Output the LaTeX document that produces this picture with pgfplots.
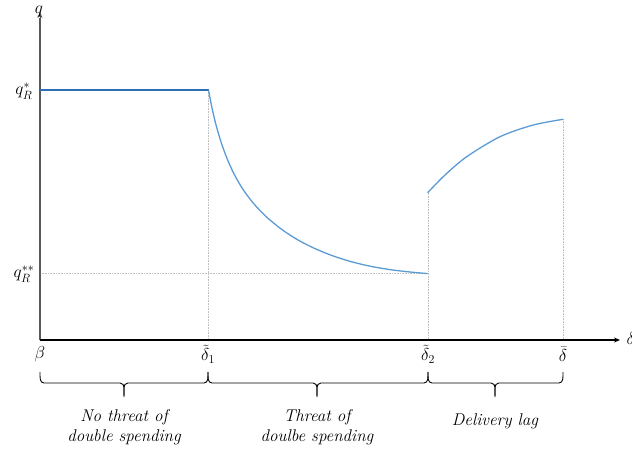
\documentclass[border=0pt]{standalone}
\usepackage{pgfplots}
\pgfplotsset{compat=1.18}
\usetikzlibrary{arrows.meta}

\definecolor{flatblue}{HTML}{2E6EB4}
\definecolor{curveblue}{HTML}{5B9BD5}
\definecolor{guide}{HTML}{BFBFBF}
\definecolor{yaxis}{HTML}{595959}

% brace from #1 to #2 with its tip at #3 (axis units)
\newcommand\bracepath[3]{%
	\draw[line width=0.9pt] (#1,-32) to[out=-90,in=180] (#1+4,-43) -- (#3-4,-43)
		to[out=0,in=90] (#3,-57) to[out=90,in=180] (#3+4,-43) -- (#2-4,-43)
		to[out=0,in=-90] (#2,-32);}

\begin{document}
\begin{tikzpicture}
\useasboundingbox (0,0) rectangle (632pt,453pt);
\begin{axis}[
	scale only axis,
	width=632pt, height=453pt,
	xmin=-40, xmax=592,
	ymin=-113, ymax=340,
	axis lines=none,
	clip=false,
	]
% guide lines
\draw[guide, densely dotted, line width=0.6pt] (168,250) -- (168,0);
\draw[guide, densely dotted, line width=0.6pt] (0,66.4) -- (388,66.4);
\draw[guide, densely dotted, line width=0.6pt] (388,147.3) -- (388,0);
\draw[guide, densely dotted, line width=0.6pt] (523.3,220.7) -- (523.3,0);

% axes
\draw[yaxis, line width=1.8pt] (0,0) -- (0,322);
\draw[-{Stealth[length=6pt,width=5pt]}, yaxis, line width=1pt] (0,318) -- (0,328);
\draw[-{Stealth[length=6pt,width=5pt]}, black, line width=1.2pt] (0,0) -- (580,0);

% flat part
\addplot[flatblue, line width=1.8pt] coordinates {(0,250) (168.5,250)};
% threat of double spending
\addplot[curveblue, line width=1.3pt, smooth, tension=0.5] coordinates {
	(168.5,250) (172,232.1) (176,215.2) (181,198.1) (187,181.6) (194,166.1)
	(203,150.6) (214,136.0) (227,122.6) (242,110.4) (258,100.0) (275,91.4)
	(293,84.1) (312,78.1) (332,73.4) (352,70.1) (370,68.0) (387.5,66.4)};
% delivery lag
\addplot[curveblue, line width=1.3pt, smooth, tension=0.5] coordinates {
	(387.7,147.3) (405,165) (426.7,183.3) (460,203.3) (493.3,215) (523.3,220.7)};

% axis labels
\node[font=\fontsize{18}{20}\selectfont, anchor=base] at (-1,326) {$q$};
\node[font=\fontsize{18}{20}\selectfont, anchor=base west] at (583,-5) {$\delta$};
\node[font=\fontsize{17}{20}\selectfont] at (-16,249) {$q_R^{*}$};
\node[font=\fontsize{17}{20}\selectfont] at (-16,66) {$q_R^{**}$};

% tick labels
\node[font=\fontsize{17}{20}\selectfont, inner sep=1pt] at (0,-14) {$\beta$};
\node[font=\fontsize{17}{20}\selectfont, inner sep=1pt] at (168,-14) {$\tilde{\delta}_1$};
\node[font=\fontsize{17}{20}\selectfont, inner sep=1pt] at (388,-14) {$\tilde{\delta}_2$};
\node[font=\fontsize{17}{20}\selectfont, inner sep=1pt] at (523,-14) {$\bar{\delta}$};

% braces
\bracepath{0}{168}{84}
\bracepath{168}{388}{277}
\bracepath{388}{523}{455}

\node[align=center, font=\fontsize{17}{20}\selectfont\itshape] at (84,-87)
	{No threat of\\double spending};
\node[align=center, font=\fontsize{17}{20}\selectfont\itshape] at (277,-87)
	{Threat of\\doulbe spending};
\node[font=\fontsize{17}{20}\selectfont\itshape] at (455,-81) {Delivery lag};
\end{axis}
\end{tikzpicture}
\end{document}
